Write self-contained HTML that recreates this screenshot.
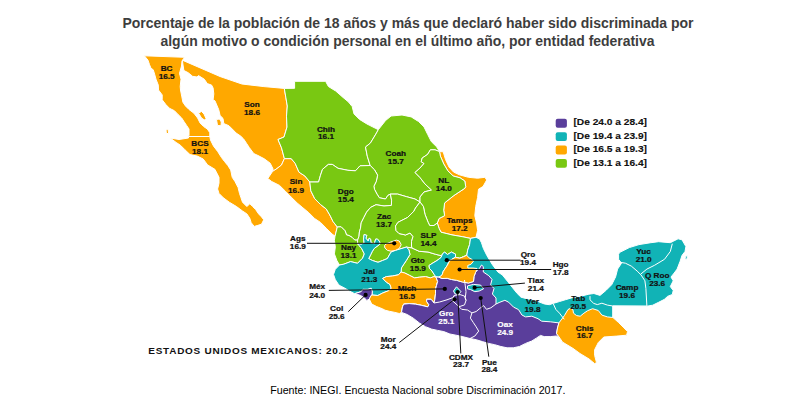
<!DOCTYPE html>
<html><head><meta charset="utf-8"><style>
html,body{margin:0;padding:0;background:#fff;width:809px;height:410px;overflow:hidden}
svg{display:block}
text{font-family:"Liberation Sans",sans-serif;font-weight:bold}
</style></head><body>
<svg width="809" height="410" viewBox="0 0 809 410">
<text x="408" y="28.1" text-anchor="middle" font-size="14" fill="#3d3d3d">Porcentaje de la población de 18 años y más que declaró haber sido discriminada por</text>
<text x="407.5" y="46.2" text-anchor="middle" font-size="14" fill="#3d3d3d" textLength="494" lengthAdjust="spacingAndGlyphs">algún motivo o condición personal en el último año, por entidad federativa</text>
<path d="M188.5,136.5 L189.0,135.1 L189.0,129.0 L186.6,125.4 L184.1,121.7 L181.7,118.0 L178.0,114.4 L174.4,110.7 L169.5,108.3 L165.9,104.6 L162.2,99.8 L162.2,94.9 L158.5,90.0 L158.3,85.1 L156.0,79.2 L154.6,74.1 L153.2,69.7 L151.0,68.3 L149.5,64.6 L148.0,60.2 L144.4,55.8 L144.4,55.8 L184.6,57.3 L184.6,57.3 L182.0,61.0 L181.5,66.0 L179.5,73.4 L181.0,79.2 L180.2,86.5 L180.5,90.0 L181.7,96.1 L182.9,102.2 L185.4,105.9 L189.0,109.5 L193.9,113.2 L197.6,118.0 L200.0,122.9 L203.7,126.6 L207.3,129.0 L209.8,132.7 L209.8,136.5 L209.8,136.5 L188.5,136.5Z" fill="#ffa800" stroke="#fff" stroke-width="1" stroke-linejoin="round"/>
<path d="M209.8,136.5 L210.5,140.0 L213.4,145.9 L217.8,151.7 L221.5,157.6 L224.5,161.5 L227.8,165.5 L230.7,170.0 L232.2,177.3 L235.1,181.7 L238.1,187.6 L239.5,193.4 L241.0,197.8 L242.5,202.2 L246.9,206.6 L249.8,203.7 L252.7,206.6 L255.6,209.5 L258.6,213.9 L261.5,216.9 L263.7,219.8 L261.5,224.2 L257.1,225.6 L254.2,226.4 L251.2,222.7 L249.8,218.3 L246.9,213.9 L242.5,211.0 L236.6,206.6 L229.3,202.2 L223.4,197.8 L219.0,193.4 L217.6,189.0 L219.0,183.2 L219.0,177.3 L214.9,169.3 L207.6,164.9 L203.2,159.0 L197.3,156.1 L190.0,154.6 L184.9,149.7 L180.5,145.3 L176.1,142.4 L170.2,138.0 L179.0,139.5 L188.5,138.0 L188.5,136.5Z" fill="#ffa800" stroke="#fff" stroke-width="1" stroke-linejoin="round"/>
<path d="M182.4,60.2 L220.0,76.5 L241.9,84.0 L263.9,86.6 L284.3,88.4 L284.3,88.4 L285.8,97.2 L287.3,106.0 L286.5,116.2 L287.0,127.0 L284.0,137.0 L278.0,139.5 L281.5,147.8 L284.4,158.6 L284.4,158.6 L281.5,165.0 L277.0,168.5 L272.5,171.5 L272.5,171.5 L273.1,169.0 L270.2,163.2 L264.3,158.8 L258.0,155.5 L253.8,153.6 L249.4,147.7 L246.5,143.3 L243.6,138.9 L240.6,136.0 L236.2,133.1 L233.3,130.1 L228.9,125.7 L223.8,123.6 L223.0,118.4 L220.1,115.5 L218.7,109.6 L215.0,100.9 L213.1,99.7 L213.8,93.9 L213.1,88.0 L211.6,85.1 L207.3,83.6 L204.3,79.2 L198.5,75.6 L197.0,77.0 L192.6,76.3 L188.2,72.7 L183.9,70.5 L183.0,65.0 L182.4,60.2Z" fill="#ffa800" stroke="#fff" stroke-width="1" stroke-linejoin="round"/>
<path d="M284.4,158.6 L291.2,158.6 L295.2,163.4 L299.0,172.2 L304.9,176.0 L309.8,182.0 L309.8,182.0 L310.8,190.8 L314.7,198.6 L320.5,204.5 L326.3,209.0 L330.4,216.1 L333.0,221.5 L337.3,227.0 L337.3,227.0 L335.0,236.2 L335.0,236.2 L332.2,234.1 L326.3,228.3 L320.5,222.4 L314.6,218.5 L308.8,212.7 L302.9,207.8 L297.1,202.9 L291.2,197.1 L285.4,191.2 L279.5,185.4 L271.7,181.5 L267.8,178.5 L272.5,171.5 L272.5,171.5 L277.0,168.5 L281.5,165.0 L284.4,158.6Z" fill="#ffa800" stroke="#fff" stroke-width="1" stroke-linejoin="round"/>
<path d="M439.5,151.6 L443.2,151.8 L445.5,159.5 L449.0,167.0 L453.5,172.0 L459.4,174.8 L468.4,177.3 L477.6,178.2 L484.9,177.3 L486.7,180.0 L486.7,180.0 L483.0,186.5 L478.5,189.2 L477.6,197.4 L475.7,206.6 L474.8,215.7 L476.6,223.0 L477.6,230.4 L476.0,237.3 L476.0,237.3 L470.5,238.4 L470.5,238.4 L462.9,236.8 L452.0,234.9 L441.0,232.2 L439.1,228.5 L437.3,223.0 L437.3,223.0 L439.1,218.5 L444.6,215.7 L443.7,210.2 L444.6,202.9 L453.8,195.6 L464.8,188.3 L465.7,186.5 L464.8,181.0 L460.0,177.8 L453.2,176.0 L447.8,170.8 L443.8,164.0 L440.4,156.2 L439.5,151.6Z" fill="#ffa800" stroke="#fff" stroke-width="1" stroke-linejoin="round"/>
<path d="M284.3,88.4 L294.6,88.3 L294.6,81.3 L325.6,81.3 L328.4,86.5 L335.7,91.0 L343.0,97.4 L348.5,102.0 L352.2,106.6 L354.0,113.9 L359.5,119.4 L366.8,123.9 L369.1,125.1 L375.9,128.5 L378.3,129.7 L378.3,129.7 L375.9,134.0 L370.4,143.1 L365.5,147.0 L367.3,156.2 L370.2,165.5 L370.2,165.5 L360.0,165.8 L355.5,170.8 L347.9,170.3 L338.0,168.3 L332.3,164.4 L328.4,164.4 L322.5,169.3 L320.5,175.2 L318.6,182.0 L309.8,182.0 L309.8,182.0 L304.9,176.0 L299.0,172.2 L295.2,163.4 L291.2,158.6 L284.4,158.6 L284.4,158.6 L281.5,147.8 L278.0,139.5 L284.0,137.0 L287.0,127.0 L286.5,116.2 L287.3,106.0 L285.8,97.2 L284.3,88.4Z" fill="#79c812" stroke="#fff" stroke-width="1" stroke-linejoin="round"/>
<path d="M378.3,129.7 L385.6,120.5 L391.1,116.0 L402.0,115.0 L411.2,116.9 L418.5,121.5 L424.0,126.9 L427.6,134.3 L431.3,141.6 L436.8,147.0 L439.5,151.6 L439.5,151.6 L435.0,149.8 L430.4,149.8 L427.6,154.4 L422.2,158.0 L421.2,161.7 L424.0,163.5 L420.0,168.0 L415.0,172.5 L420.0,177.5 L425.0,184.0 L431.5,190.0 L424.0,192.0 L420.0,197.0 L420.0,202.0 L420.0,202.0 L415.0,199.0 L406.2,196.6 L397.7,194.1 L390.4,194.1 L390.4,194.1 L387.9,195.4 L385.5,199.0 L379.4,197.8 L377.0,194.1 L374.5,189.3 L373.9,186.2 L376.3,181.3 L377.6,175.2 L374.5,169.8 L370.2,165.5 L370.2,165.5 L367.3,156.2 L365.5,147.0 L370.4,143.1 L375.9,134.0 L378.3,129.7Z" fill="#79c812" stroke="#fff" stroke-width="1" stroke-linejoin="round"/>
<path d="M439.5,151.6 L440.4,156.2 L443.8,164.0 L447.8,170.8 L453.2,176.0 L460.0,177.8 L464.8,181.0 L465.7,186.5 L464.8,188.3 L453.8,195.6 L444.6,202.9 L443.7,210.2 L444.6,215.7 L439.1,218.5 L437.3,223.0 L437.3,223.0 L434.0,225.5 L429.7,225.5 L428.1,222.3 L425.0,214.4 L423.4,206.5 L420.0,202.0 L420.0,202.0 L420.0,197.0 L424.0,192.0 L431.5,190.0 L425.0,184.0 L420.0,177.5 L415.0,172.5 L420.0,168.0 L424.0,163.5 L421.2,161.7 L422.2,158.0 L427.6,154.4 L430.4,149.8 L435.0,149.8 L439.5,151.6Z" fill="#79c812" stroke="#fff" stroke-width="1" stroke-linejoin="round"/>
<path d="M370.2,165.5 L374.5,169.8 L377.6,175.2 L376.3,181.3 L373.9,186.2 L374.5,189.3 L377.0,194.1 L379.4,197.8 L385.5,199.0 L387.9,195.4 L390.4,194.1 L390.4,194.1 L391.6,200.2 L391.4,205.4 L384.0,206.0 L376.0,204.7 L370.6,207.4 L366.6,212.1 L363.9,217.4 L361.2,222.8 L360.5,228.2 L359.4,232.0 L359.0,236.3 L357.6,240.1 L357.6,240.1 L354.8,240.1 L352.0,237.3 L349.0,235.5 L346.5,234.9 L345.1,230.8 L341.1,226.8 L337.3,227.0 L337.3,227.0 L333.0,221.5 L330.4,216.1 L326.3,209.0 L320.5,204.5 L314.7,198.6 L310.8,190.8 L309.8,182.0 L309.8,182.0 L318.6,182.0 L320.5,175.2 L322.5,169.3 L328.4,164.4 L332.3,164.4 L338.0,168.3 L347.9,170.3 L355.5,170.8 L360.0,165.8 L370.2,165.5Z" fill="#79c812" stroke="#fff" stroke-width="1" stroke-linejoin="round"/>
<path d="M337.3,227.0 L335.0,236.2 L335.0,236.2 L334.4,240.3 L335.3,247.1 L334.4,253.9 L337.0,260.8 L339.5,265.0 L339.5,265.0 L343.8,264.2 L350.6,261.6 L357.5,263.3 L362.6,258.2 L364.3,253.9 L361.8,248.8 L359.2,245.5 L357.6,243.8 L357.6,243.8 L357.6,240.1 L357.6,240.1 L354.8,240.1 L352.0,237.3 L349.0,235.5 L346.5,234.9 L345.1,230.8 L341.1,226.8 L337.3,227.0Z" fill="#79c812" stroke="#fff" stroke-width="1" stroke-linejoin="round"/>
<path d="M390.4,194.1 L397.7,194.1 L406.2,196.6 L415.0,199.0 L420.0,202.0 L420.0,202.0 L415.5,208.0 L413.9,211.2 L407.5,217.5 L398.0,222.3 L395.5,226.0 L396.0,230.5 L399.0,233.5 L405.5,235.0 L410.0,233.0 L413.0,236.5 L411.5,241.5 L411.5,246.0 L412.0,248.0 L412.0,248.0 L406.3,247.1 L406.3,247.1 L402.0,248.4 L395.6,250.3 L391.0,252.1 L387.3,258.6 L382.6,260.5 L378.0,262.3 L372.4,260.5 L368.7,258.6 L370.6,254.9 L372.4,251.2 L374.3,248.4 L378.0,245.6 L379.8,244.2 L379.8,241.9 L377.5,239.1 L375.7,239.1 L374.3,243.8 L371.0,242.8 L370.6,239.1 L369.2,238.2 L368.2,241.0 L365.9,238.2 L366.8,235.4 L364.1,234.5 L363.6,239.1 L364.1,242.8 L361.3,244.2 L357.6,243.8 L357.6,243.8 L357.6,240.1 L357.6,240.1 L359.0,236.3 L359.4,232.0 L360.5,228.2 L361.2,222.8 L363.9,217.4 L366.6,212.1 L370.6,207.4 L376.0,204.7 L384.0,206.0 L391.4,205.4 L391.6,200.2 L390.4,194.1Z" fill="#79c812" stroke="#fff" stroke-width="1" stroke-linejoin="round"/>
<path d="M406.3,247.1 L412.0,248.0 L412.0,248.0 L419.2,251.3 L428.0,252.0 L435.3,254.2 L441.2,255.7 L442.5,254.0 L442.5,254.0 L441.0,257.5 L437.0,260.5 L432.0,263.5 L429.0,265.5 L429.5,268.5 L432.0,271.0 L434.0,274.2 L436.0,277.0 L436.0,277.0 L434.0,276.6 L430.4,277.9 L425.5,276.6 L419.4,277.2 L414.5,277.9 L409.6,275.4 L404.8,273.0 L401.0,272.0 L401.0,272.0 L401.5,267.8 L403.9,264.1 L406.3,260.5 L410.0,254.4 L408.8,249.5 L406.3,247.1Z" fill="#79c812" stroke="#fff" stroke-width="1" stroke-linejoin="round"/>
<path d="M420.0,202.0 L423.4,206.5 L425.0,214.4 L428.1,222.3 L429.7,225.5 L434.0,225.5 L437.3,223.0 L437.3,223.0 L439.1,228.5 L441.0,232.2 L452.0,234.9 L462.9,236.8 L470.5,238.4 L470.5,238.4 L469.6,244.6 L467.7,250.1 L466.8,255.2 L466.8,255.2 L463.7,256.7 L459.6,258.2 L455.5,257.7 L455.5,257.2 L455.5,257.2 L455.5,254.1 L451.4,252.1 L447.5,254.5 L444.5,252.0 L442.5,254.0 L442.5,254.0 L441.2,255.7 L435.3,254.2 L428.0,252.0 L419.2,251.3 L412.0,248.0 L412.0,248.0 L411.5,246.0 L411.5,241.5 L413.0,236.5 L410.0,233.0 L405.5,235.0 L399.0,233.5 L396.0,230.5 L395.5,226.0 L398.0,222.3 L407.5,217.5 L413.9,211.2 L415.5,208.0 L420.0,202.0Z" fill="#79c812" stroke="#fff" stroke-width="1" stroke-linejoin="round"/>
<path d="M357.6,243.8 L361.3,244.2 L364.1,242.8 L363.6,239.1 L364.1,234.5 L366.8,235.4 L365.9,238.2 L368.2,241.0 L369.2,238.2 L370.6,239.1 L371.0,242.8 L374.3,243.8 L375.7,239.1 L377.5,239.1 L379.8,241.9 L379.8,244.2 L378.0,245.6 L374.3,248.4 L372.4,251.2 L370.6,254.9 L368.7,258.6 L372.4,260.5 L378.0,262.3 L382.6,260.5 L387.3,258.6 L391.0,252.1 L395.6,250.3 L402.0,248.4 L406.3,247.1 L406.3,247.1 L408.8,249.5 L410.0,254.4 L406.3,260.5 L403.9,264.1 L401.5,267.8 L401.0,272.0 L401.0,272.0 L398.5,274.8 L392.4,276.0 L386.3,276.6 L382.7,278.4 L386.3,282.1 L390.0,284.5 L391.2,288.2 L388.8,290.6 L382.7,293.0 L377.8,295.5 L372.0,295.0 L372.0,295.0 L372.3,291.2 L371.1,288.2 L368.0,289.4 L363.2,289.4 L360.7,291.8 L354.6,293.7 L354.6,293.7 L349.8,291.2 L344.9,288.2 L340.0,285.7 L338.7,284.7 L335.3,279.6 L333.5,274.4 L335.3,269.3 L339.5,265.0 L339.5,265.0 L343.8,264.2 L350.6,261.6 L357.5,263.3 L362.6,258.2 L364.3,253.9 L361.8,248.8 L359.2,245.5 L357.6,243.8Z" fill="#11b3b6" stroke="#fff" stroke-width="1" stroke-linejoin="round"/>
<path d="M442.5,254.0 L444.5,252.0 L447.5,254.5 L451.4,252.1 L455.5,254.1 L455.5,257.2 L455.5,257.2 L450.4,260.3 L449.3,261.3 L447.3,265.4 L445.2,268.5 L443.2,271.6 L442.2,274.6 L440.1,276.7 L439.0,277.2 L439.0,277.2 L436.0,277.0 L436.0,277.0 L434.0,274.2 L432.0,271.0 L429.5,268.5 L429.0,265.5 L432.0,263.5 L437.0,260.5 L441.0,257.5 L442.5,254.0Z" fill="#11b3b6" stroke="#fff" stroke-width="1" stroke-linejoin="round"/>
<path d="M354.6,293.7 L360.7,291.8 L363.2,289.4 L368.0,289.4 L371.1,288.2 L372.3,291.2 L372.0,295.0 L372.0,295.0 L371.1,295.5 L369.3,299.1 L369.3,299.1 L366.8,300.4 L364.4,297.9 L360.7,295.5 L357.1,294.3 L354.6,293.7Z" fill="#5a3e9b" stroke="#fff" stroke-width="1" stroke-linejoin="round"/>
<path d="M401.0,272.0 L404.8,273.0 L409.6,275.4 L414.5,277.9 L419.4,277.2 L425.5,276.6 L430.4,277.9 L434.0,276.6 L436.0,277.0 L436.0,277.0 L437.7,281.5 L436.5,285.5 L435.5,289.4 L435.5,293.8 L434.9,299.3 L434.0,303.0 L434.0,303.0 L431.1,299.3 L426.7,299.3 L426.7,301.5 L428.9,304.7 L427.8,306.9 L421.2,305.3 L415.7,304.2 L409.1,303.6 L403.6,304.2 L402.5,306.9 L401.5,312.4 L401.5,312.4 L399.3,313.5 L394.9,312.4 L389.4,311.3 L385.0,310.2 L382.7,308.9 L376.6,306.5 L371.7,304.0 L369.3,299.1 L369.3,299.1 L371.1,295.5 L372.0,295.0 L372.0,295.0 L377.8,295.5 L382.7,293.0 L388.8,290.6 L391.2,288.2 L390.0,284.5 L386.3,282.1 L382.7,278.4 L386.3,276.6 L392.4,276.0 L398.5,274.8 L401.0,272.0Z" fill="#ffa800" stroke="#fff" stroke-width="1" stroke-linejoin="round"/>
<path d="M470.5,238.4 L470.5,238.4 L469.6,244.6 L467.7,250.1 L466.8,255.2 L466.8,255.2 L463.7,256.7 L459.6,258.2 L455.5,257.7 L455.5,257.2 L455.5,257.2 L450.4,260.3 L449.3,261.3 L447.3,265.4 L445.2,268.5 L443.2,271.6 L442.2,274.6 L440.1,276.7 L439.0,277.2 L439.0,277.2 L436.0,277.0 L436.0,277.0 L437.7,281.5 L436.5,285.5 L435.5,289.4 L435.5,293.8 L434.9,299.3 L434.0,303.0 L434.0,303.0 L431.1,299.3 L426.7,299.3 L426.7,301.5 L428.9,304.7 L427.8,306.9 L421.2,305.3 L415.7,304.2 L409.1,303.6 L403.6,304.2 L402.5,306.9 L401.5,312.4 L401.5,312.4 L407.2,314.5 L413.3,318.2 L419.4,323.0 L425.5,326.7 L431.6,329.1 L437.7,330.4 L443.8,331.6 L449.9,334.0 L456.0,335.2 L462.1,336.5 L470.0,338.5 L476.2,339.7 L482.4,341.6 L488.5,343.4 L494.7,344.7 L500.9,346.5 L507.1,347.8 L513.3,347.8 L519.4,346.5 L525.6,343.4 L531.8,341.0 L536.7,337.9 L540.5,335.4 L544.2,336.6 L550.3,336.6 L556.5,336.0 L560.2,338.5 L560.2,338.5 L562.4,342.0 L572.9,348.3 L580.0,353.5 L589.1,359.0 L594.6,363.6 L596.5,362.6 L596.5,362.6 L594.6,355.3 L594.6,349.8 L598.3,342.5 L603.8,337.0 L616.6,336.1 L626.6,335.2 L627.5,331.6 L623.9,327.9 L618.4,322.4 L612.9,317.5 L612.9,306.0 L646.9,306.2 L646.9,306.2 L652.7,305.2 L658.6,302.3 L664.5,299.3 L667.4,296.4 L672.3,294.5 L673.2,290.5 L670.3,286.6 L673.2,280.8 L671.0,277.0 L674.2,273.0 L677.1,269.1 L680.1,261.3 L682.0,255.4 L685.0,251.5 L685.9,246.6 L682.0,239.8 L678.1,238.8 L670.3,242.7 L658.6,241.7 L650.8,242.7 L639.0,244.6 L629.3,247.6 L619.5,252.5 L618.6,254.4 L618.6,259.3 L621.5,263.2 L617.6,269.1 L615.6,276.9 L611.7,284.7 L605.9,290.5 L600.0,295.4 L593.9,293.5 L593.9,293.5 L588.9,294.2 L581.5,296.0 L571.6,297.9 L565.5,299.7 L559.3,301.6 L553.1,303.4 L549.4,304.7 L544.4,304.0 L538.3,301.6 L532.1,299.7 L525.9,298.5 L521.0,297.2 L517.2,293.5 L512.3,287.4 L507.4,281.2 L502.4,275.0 L497.9,272.0 L492.4,264.7 L486.9,255.6 L483.3,248.3 L481.5,242.8 L479.6,239.1 L476.0,237.3Z" fill="#11b3b6" stroke="#fff" stroke-width="1" stroke-linejoin="round"/>
<path d="M384.5,245.6 L386.3,243.8 L391.0,241.9 L396.5,240.1 L399.3,241.0 L401.2,244.7 L399.3,248.4 L395.6,250.3 L391.0,251.2 L387.3,250.3 L384.9,248.0Z" fill="#ffa800" stroke="#fff" stroke-width="1" stroke-linejoin="round"/>
<path d="M198.5,113.0 L201.5,111.5 L204.0,114.0 L206.0,118.5 L204.5,120.0 L201.5,118.0Z" fill="#ffa800" stroke="#fff" stroke-width="1" stroke-linejoin="round"/>
<path d="M216.5,119.5 L219.5,119.0 L221.3,122.0 L221.0,125.7 L217.5,125.5Z" fill="#ffa800" stroke="#fff" stroke-width="1" stroke-linejoin="round"/>
<path d="M166.0,130.0 L168.0,129.0 L168.5,133.0 L166.5,134.0Z" fill="#ffa800" stroke="#fff" stroke-width="1" stroke-linejoin="round"/>
<path d="M685.5,256.5 L687.5,255.5 L687.0,259.0 L685.0,259.5Z" fill="#11b3b6" stroke="#fff" stroke-width="1" stroke-linejoin="round"/>
<path d="M436.0,277.0 L439.0,277.2 L439.0,277.2 L442.0,278.5 L447.2,278.3 L451.5,279.5 L456.5,280.3 L462.5,282.0 L468.5,283.0 L473.5,281.5 L474.0,276.5 L475.5,272.5 L476.0,271.6 L476.0,271.6 L479.5,268.4 L481.5,265.0 L483.3,266.6 L483.3,272.0 L488.8,275.7 L492.0,279.4 L490.6,284.8 L494.0,288.5 L492.4,294.0 L496.0,298.0 L496.0,304.0 L496.0,304.0 L499.9,302.2 L504.9,300.3 L508.6,302.2 L513.5,307.1 L518.5,309.6 L521.9,315.0 L525.6,316.9 L531.8,316.2 L538.0,318.7 L541.7,321.2 L550.3,321.8 L558.9,322.9 L558.9,322.9 L557.5,328.0 L556.5,333.5 L560.2,338.5 L560.2,338.5 L556.5,336.0 L550.3,336.6 L544.2,336.6 L540.5,335.4 L536.7,337.9 L531.8,341.0 L525.6,343.4 L519.4,346.5 L513.3,347.8 L507.1,347.8 L500.9,346.5 L494.7,344.7 L488.5,343.4 L482.4,341.6 L476.2,339.7 L470.0,338.5 L462.1,336.5 L456.0,335.2 L449.9,334.0 L443.8,331.6 L437.7,330.4 L431.6,329.1 L425.5,326.7 L419.4,323.0 L413.3,318.2 L407.2,314.5 L401.5,312.4 L401.5,312.4 L402.5,306.9 L403.6,304.2 L409.1,303.6 L415.7,304.2 L421.2,305.3 L427.8,306.9 L428.9,304.7 L426.7,301.5 L426.7,299.3 L431.1,299.3 L434.0,303.0 L434.0,303.0 L434.9,299.3 L435.5,293.8 L435.5,289.4 L436.5,285.5 L437.7,281.5 L436.0,277.0Z" fill="#5a3e9b" stroke="#fff" stroke-width="1" stroke-linejoin="round"/>
<path d="M455.5,257.2 L459.6,258.2 L463.7,256.7 L466.8,255.2 L468.8,257.7 L471.9,259.3 L473.4,261.3 L470.9,264.4 L467.8,265.4 L467.8,268.0 L472.9,268.0 L477.0,268.5 L476.0,271.6 L476.0,271.6 L475.5,272.5 L474.0,276.5 L473.5,281.5 L468.5,283.0 L462.5,282.0 L456.5,280.3 L451.5,279.5 L447.2,278.3 L442.0,278.5 L439.0,277.2 L439.0,277.2 L440.1,276.7 L442.2,274.6 L443.2,271.6 L445.2,268.5 L447.3,265.4 L449.3,261.3 L450.4,260.3 L455.5,257.2Z" fill="#ffa800" stroke="#fff" stroke-width="1" stroke-linejoin="round"/>
<path d="M558.9,322.9 L564.4,315.6 L568.0,309.5 L570.5,308.3 L572.9,309.5 L573.5,313.2 L576.6,315.6 L580.2,316.2 L583.9,313.2 L587.6,310.7 L592.6,308.7 L598.3,310.5 L601.9,315.1 L607.4,316.9 L612.9,317.5 L612.9,317.5 L618.4,322.4 L623.9,327.9 L627.5,331.6 L626.6,335.2 L616.6,336.1 L603.8,337.0 L598.3,342.5 L594.6,349.8 L594.6,355.3 L596.5,362.6 L594.6,363.6 L589.1,359.0 L580.0,353.5 L572.9,348.3 L562.4,342.0 L560.2,338.5 L560.2,338.5 L556.5,333.5 L557.5,328.0 L558.9,322.9Z" fill="#ffa800" stroke="#fff" stroke-width="1" stroke-linejoin="round"/>
<path d="M453.5,291.0 L456.5,286.8 L460.9,291.5 L459.0,294.0 L455.0,293.9Z" fill="#11b3b6" stroke="#fff" stroke-width="1" stroke-linejoin="round"/>
<path d="M467.5,285.9 L473.3,284.4 L480.6,285.1 L483.6,288.8 L479.2,291.0 L474.8,291.7 L470.4,289.5 L467.5,288.8Z" fill="#11b3b6" stroke="#fff" stroke-width="1" stroke-linejoin="round"/>
<path d="M434.0,303.0 L439.6,302.0 L447.0,299.8 L452.8,297.6 L454.3,295.4 L460.1,294.6 L464.5,296.1 L466.0,300.5" fill="none" stroke="#fff" stroke-width="1" stroke-linejoin="round"/>
<path d="M464.5,280.0 L465.3,285.9 L466.0,291.7 L465.3,297.6 L466.0,300.5" fill="none" stroke="#fff" stroke-width="1" stroke-linejoin="round"/>
<path d="M454.3,295.4 L452.1,300.5 L455.0,303.0 L458.7,306.4" fill="none" stroke="#fff" stroke-width="1" stroke-linejoin="round"/>
<path d="M466.0,300.5 L464.5,304.9 L460.1,306.4 L458.7,306.4 L461.6,309.3 L467.5,310.0 L471.9,312.9" fill="none" stroke="#fff" stroke-width="1" stroke-linejoin="round"/>
<path d="M471.9,312.9 L476.2,311.5 L480.6,307.8 L483.6,305.6 L486.5,309.3 L490.9,307.8 L496.0,304.0" fill="none" stroke="#fff" stroke-width="1" stroke-linejoin="round"/>
<path d="M471.9,312.9 L470.4,318.1 L473.3,322.5 L476.2,326.9 L478.7,331.1 L474.9,336.0 L470.0,338.5" fill="none" stroke="#fff" stroke-width="1" stroke-linejoin="round"/>
<path d="M553.4,304.0 L555.9,309.5 L559.5,313.2 L563.2,318.0 L564.4,319.3" fill="none" stroke="#fff" stroke-width="1" stroke-linejoin="round"/>
<path d="M590.0,296.1 L590.0,299.8 L593.7,303.4 L597.3,304.6 L601.9,303.2 L607.4,305.1 L612.9,306.0 L612.9,317.5" fill="none" stroke="#fff" stroke-width="1" stroke-linejoin="round"/>
<path d="M612.9,306.0 L646.9,306.2" fill="none" stroke="#fff" stroke-width="1" stroke-linejoin="round"/>
<path d="M619.5,262.2 L625.4,263.2 L631.3,266.1 L637.1,271.0 L641.0,274.9 L644.9,280.8 L645.9,288.6 L646.9,306.2" fill="none" stroke="#fff" stroke-width="1" stroke-linejoin="round"/>
<path d="M672.3,243.7 L670.3,251.5 L664.5,259.3 L654.7,265.2 L646.9,269.1 L641.0,273.9" fill="none" stroke="#fff" stroke-width="1" stroke-linejoin="round"/>
<line x1="307" y1="243.3" x2="394.2" y2="243.3" stroke="#111" stroke-width="1"/>
<circle cx="394.2" cy="243.3" r="2.1" fill="#000"/>
<line x1="328.8" y1="290.4" x2="444.8" y2="288.9" stroke="#111" stroke-width="1"/>
<circle cx="444.8" cy="288.9" r="2.1" fill="#000"/>
<line x1="348.3" y1="311.6" x2="365.6" y2="294.9" stroke="#111" stroke-width="1"/>
<circle cx="365.6" cy="294.9" r="2.1" fill="#000"/>
<line x1="399.3" y1="342.5" x2="454.5" y2="299.3" stroke="#111" stroke-width="1"/>
<circle cx="454.5" cy="299.3" r="2.1" fill="#000"/>
<line x1="460.8" y1="353.4" x2="457.6" y2="292" stroke="#111" stroke-width="1"/>
<circle cx="457.6" cy="292" r="2.1" fill="#000"/>
<line x1="488.8" y1="356.7" x2="480.7" y2="298" stroke="#111" stroke-width="1"/>
<circle cx="480.7" cy="298" r="2.1" fill="#000"/>
<line x1="446.8" y1="260.2" x2="520.5" y2="260.2" stroke="#111" stroke-width="1"/>
<circle cx="446.8" cy="260.2" r="2.1" fill="#000"/>
<line x1="459.6" y1="269.5" x2="551.2" y2="269.5" stroke="#111" stroke-width="1"/>
<circle cx="459.6" cy="269.5" r="2.1" fill="#000"/>
<line x1="474.6" y1="287.7" x2="524.9" y2="283.1" stroke="#111" stroke-width="1"/>
<circle cx="474.6" cy="287.7" r="2.1" fill="#000"/>
<text transform="translate(166.6,71.4) scale(1,0.84)" text-anchor="middle" fill="#111" stroke="#111" stroke-width="0.25" font-size="8.2">BC</text><text transform="translate(166.6,79.0) scale(1,0.84)" text-anchor="middle" fill="#111" stroke="#111" stroke-width="0.25" font-size="8.2">16.5</text>
<text transform="translate(200,146.4) scale(1,0.84)" text-anchor="middle" fill="#111" stroke="#111" stroke-width="0.25" font-size="8.2">BCS</text><text transform="translate(200,154.0) scale(1,0.84)" text-anchor="middle" fill="#111" stroke="#111" stroke-width="0.25" font-size="8.2">18.1</text>
<text transform="translate(252,107.4) scale(1,0.84)" text-anchor="middle" fill="#111" stroke="#111" stroke-width="0.25" font-size="8.2">Son</text><text transform="translate(252,115.2) scale(1,0.84)" text-anchor="middle" fill="#111" stroke="#111" stroke-width="0.25" font-size="8.2">18.6</text>
<text transform="translate(326,131.8) scale(1,0.84)" text-anchor="middle" fill="#111" stroke="#111" stroke-width="0.25" font-size="8.2">Chih</text><text transform="translate(326,139.1) scale(1,0.84)" text-anchor="middle" fill="#111" stroke="#111" stroke-width="0.25" font-size="8.2">16.1</text>
<text transform="translate(345.8,194.4) scale(1,0.84)" text-anchor="middle" fill="#111" stroke="#111" stroke-width="0.25" font-size="8.2">Dgo</text><text transform="translate(345.8,201.6) scale(1,0.84)" text-anchor="middle" fill="#111" stroke="#111" stroke-width="0.25" font-size="8.2">15.4</text>
<text transform="translate(296,184.0) scale(1,0.84)" text-anchor="middle" fill="#111" stroke="#111" stroke-width="0.25" font-size="8.2">Sin</text><text transform="translate(296,192.8) scale(1,0.84)" text-anchor="middle" fill="#111" stroke="#111" stroke-width="0.25" font-size="8.2">16.9</text>
<text transform="translate(395.8,155.9) scale(1,0.84)" text-anchor="middle" fill="#111" stroke="#111" stroke-width="0.25" font-size="8.2">Coah</text><text transform="translate(395.8,163.6) scale(1,0.84)" text-anchor="middle" fill="#111" stroke="#111" stroke-width="0.25" font-size="8.2">15.7</text>
<text transform="translate(443.8,183.20000000000002) scale(1,0.84)" text-anchor="middle" fill="#111" stroke="#111" stroke-width="0.25" font-size="8.2">NL</text><text transform="translate(443.8,191.3) scale(1,0.84)" text-anchor="middle" fill="#111" stroke="#111" stroke-width="0.25" font-size="8.2">14.0</text>
<text transform="translate(459.6,223.0) scale(1,0.84)" text-anchor="middle" fill="#111" stroke="#111" stroke-width="0.25" font-size="8.2">Tamps</text><text transform="translate(459.6,231.0) scale(1,0.84)" text-anchor="middle" fill="#111" stroke="#111" stroke-width="0.25" font-size="8.2">17.2</text>
<text transform="translate(384,219.3) scale(1,0.84)" text-anchor="middle" fill="#111" stroke="#111" stroke-width="0.25" font-size="8.2">Zac</text><text transform="translate(384,227.1) scale(1,0.84)" text-anchor="middle" fill="#111" stroke="#111" stroke-width="0.25" font-size="8.2">13.7</text>
<text transform="translate(428.5,237.6) scale(1,0.84)" text-anchor="middle" fill="#111" stroke="#111" stroke-width="0.25" font-size="8.2">SLP</text><text transform="translate(428.5,246.1) scale(1,0.84)" text-anchor="middle" fill="#111" stroke="#111" stroke-width="0.25" font-size="8.2">14.4</text>
<text transform="translate(417.8,262.7) scale(1,0.84)" text-anchor="middle" fill="#111" stroke="#111" stroke-width="0.25" font-size="8.2">Gto</text><text transform="translate(417.8,270.5) scale(1,0.84)" text-anchor="middle" fill="#111" stroke="#111" stroke-width="0.25" font-size="8.2">15.9</text>
<text transform="translate(348.5,249.9) scale(1,0.84)" text-anchor="middle" fill="#111" stroke="#111" stroke-width="0.25" font-size="8.2">Nay</text><text transform="translate(348.5,258.29999999999995) scale(1,0.84)" text-anchor="middle" fill="#111" stroke="#111" stroke-width="0.25" font-size="8.2">13.1</text>
<text transform="translate(369.3,274.2) scale(1,0.84)" text-anchor="middle" fill="#111" stroke="#111" stroke-width="0.25" font-size="8.2">Jal</text><text transform="translate(369.3,282.0) scale(1,0.84)" text-anchor="middle" fill="#111" stroke="#111" stroke-width="0.25" font-size="8.2">21.3</text>
<text transform="translate(407,291.09999999999997) scale(1,0.84)" text-anchor="middle" fill="#111" stroke="#111" stroke-width="0.25" font-size="8.2">Mich</text><text transform="translate(407,299.0) scale(1,0.84)" text-anchor="middle" fill="#111" stroke="#111" stroke-width="0.25" font-size="8.2">16.5</text>
<text transform="translate(446.3,316.2) scale(1,0.84)" text-anchor="middle" fill="#fff" stroke="#fff" stroke-width="0.2" font-size="8.2">Gro</text><text transform="translate(446.3,323.9) scale(1,0.84)" text-anchor="middle" fill="#fff" stroke="#fff" stroke-width="0.2" font-size="8.2">25.1</text>
<text transform="translate(505.1,327.29999999999995) scale(1,0.84)" text-anchor="middle" fill="#fff" stroke="#fff" stroke-width="0.2" font-size="8.2">Oax</text><text transform="translate(505.1,335.09999999999997) scale(1,0.84)" text-anchor="middle" fill="#fff" stroke="#fff" stroke-width="0.2" font-size="8.2">24.9</text>
<text transform="translate(532.5,304.2) scale(1,0.84)" text-anchor="middle" fill="#111" stroke="#111" stroke-width="0.25" font-size="8.2">Ver</text><text transform="translate(532.5,312.09999999999997) scale(1,0.84)" text-anchor="middle" fill="#111" stroke="#111" stroke-width="0.25" font-size="8.2">19.8</text>
<text transform="translate(578.2,301.0) scale(1,0.84)" text-anchor="middle" fill="#111" stroke="#111" stroke-width="0.25" font-size="8.2">Tab</text><text transform="translate(578.2,308.7) scale(1,0.84)" text-anchor="middle" fill="#111" stroke="#111" stroke-width="0.25" font-size="8.2">20.5</text>
<text transform="translate(584.7,330.7) scale(1,0.84)" text-anchor="middle" fill="#111" stroke="#111" stroke-width="0.25" font-size="8.2">Chis</text><text transform="translate(584.7,338.4) scale(1,0.84)" text-anchor="middle" fill="#111" stroke="#111" stroke-width="0.25" font-size="8.2">16.7</text>
<text transform="translate(627,290.0) scale(1,0.84)" text-anchor="middle" fill="#111" stroke="#111" stroke-width="0.25" font-size="8.2">Camp</text><text transform="translate(627,297.7) scale(1,0.84)" text-anchor="middle" fill="#111" stroke="#111" stroke-width="0.25" font-size="8.2">19.6</text>
<text transform="translate(643.6,254.0) scale(1,0.84)" text-anchor="middle" fill="#111" stroke="#111" stroke-width="0.25" font-size="8.2">Yuc</text><text transform="translate(643.6,261.79999999999995) scale(1,0.84)" text-anchor="middle" fill="#111" stroke="#111" stroke-width="0.25" font-size="8.2">21.0</text>
<text transform="translate(657.2,278.0) scale(1,0.84)" text-anchor="middle" fill="#111" stroke="#111" stroke-width="0.25" font-size="8.2">Q Roo</text><text transform="translate(657.2,285.7) scale(1,0.84)" text-anchor="middle" fill="#111" stroke="#111" stroke-width="0.25" font-size="8.2">23.6</text>
<text transform="translate(297.8,241.3) scale(1,0.84)" text-anchor="middle" fill="#111" stroke="#111" stroke-width="0.25" font-size="8.2">Ags</text><text transform="translate(297.8,249.1) scale(1,0.84)" text-anchor="middle" fill="#111" stroke="#111" stroke-width="0.25" font-size="8.2">16.9</text>
<text transform="translate(317.2,289.29999999999995) scale(1,0.84)" text-anchor="middle" fill="#111" stroke="#111" stroke-width="0.25" font-size="8.2">Méx</text><text transform="translate(317.2,298.09999999999997) scale(1,0.84)" text-anchor="middle" fill="#111" stroke="#111" stroke-width="0.25" font-size="8.2">24.0</text>
<text transform="translate(336.7,311.4) scale(1,0.84)" text-anchor="middle" fill="#111" stroke="#111" stroke-width="0.25" font-size="8.2">Col</text><text transform="translate(336.7,319.4) scale(1,0.84)" text-anchor="middle" fill="#111" stroke="#111" stroke-width="0.25" font-size="8.2">25.6</text>
<text transform="translate(388.3,341.7) scale(1,0.84)" text-anchor="middle" fill="#111" stroke="#111" stroke-width="0.25" font-size="8.2">Mor</text><text transform="translate(388.3,349.4) scale(1,0.84)" text-anchor="middle" fill="#111" stroke="#111" stroke-width="0.25" font-size="8.2">24.4</text>
<text transform="translate(461,359.9) scale(1,0.84)" text-anchor="middle" fill="#111" stroke="#111" stroke-width="0.25" font-size="8.2">CDMX</text><text transform="translate(461,367.2) scale(1,0.84)" text-anchor="middle" fill="#111" stroke="#111" stroke-width="0.25" font-size="8.2">23.7</text>
<text transform="translate(489.4,364.5) scale(1,0.84)" text-anchor="middle" fill="#111" stroke="#111" stroke-width="0.25" font-size="8.2">Pue</text><text transform="translate(489.4,371.79999999999995) scale(1,0.84)" text-anchor="middle" fill="#111" stroke="#111" stroke-width="0.25" font-size="8.2">28.4</text>
<text transform="translate(528,256.79999999999995) scale(1,0.84)" text-anchor="middle" fill="#111" stroke="#111" stroke-width="0.25" font-size="8.2">Qro</text><text transform="translate(528,264.5) scale(1,0.84)" text-anchor="middle" fill="#111" stroke="#111" stroke-width="0.25" font-size="8.2">19.4</text>
<text transform="translate(560.6,267.4) scale(1,0.84)" text-anchor="middle" fill="#111" stroke="#111" stroke-width="0.25" font-size="8.2">Hgo</text><text transform="translate(560.6,275.2) scale(1,0.84)" text-anchor="middle" fill="#111" stroke="#111" stroke-width="0.25" font-size="8.2">17.8</text>
<text transform="translate(535.8,282.79999999999995) scale(1,0.84)" text-anchor="middle" fill="#111" stroke="#111" stroke-width="0.25" font-size="8.2">Tlax</text><text transform="translate(535.8,290.79999999999995) scale(1,0.84)" text-anchor="middle" fill="#111" stroke="#111" stroke-width="0.25" font-size="8.2">21.4</text>
<rect x="555.7" y="118.8" width="11.2" height="8.9" rx="2" fill="#5a3e9b"/>
<text transform="translate(573.4,125.4) scale(1,0.86)" font-size="10.2" fill="#111" stroke="#111" stroke-width="0.15">[De 24.0 a 28.4]</text>
<rect x="555.7" y="132.2" width="11.2" height="8.9" rx="2" fill="#11b3b6"/>
<text transform="translate(573.4,138.8) scale(1,0.86)" font-size="10.2" fill="#111" stroke="#111" stroke-width="0.15">[De 19.4 a 23.9]</text>
<rect x="555.7" y="145.5" width="11.2" height="8.9" rx="2" fill="#ffa800"/>
<text transform="translate(573.4,152.1) scale(1,0.86)" font-size="10.2" fill="#111" stroke="#111" stroke-width="0.15">[De 16.5 a 19.3]</text>
<rect x="555.7" y="158.9" width="11.2" height="8.9" rx="2" fill="#79c812"/>
<text transform="translate(573.4,165.5) scale(1,0.86)" font-size="10.2" fill="#111" stroke="#111" stroke-width="0.15">[De 13.1 a 16.4]</text>
<text transform="translate(148.3,353.8) scale(1,0.93)" font-size="10" letter-spacing="0.74" fill="#111">ESTADOS UNIDOS MEXICANOS: 20.2</text>
<text x="270.2" y="393.7" font-size="10.7" style="font-weight:normal" fill="#000">Fuente: INEGI. Encuesta Nacional sobre Discriminación 2017.</text>
</svg>
</body></html>
